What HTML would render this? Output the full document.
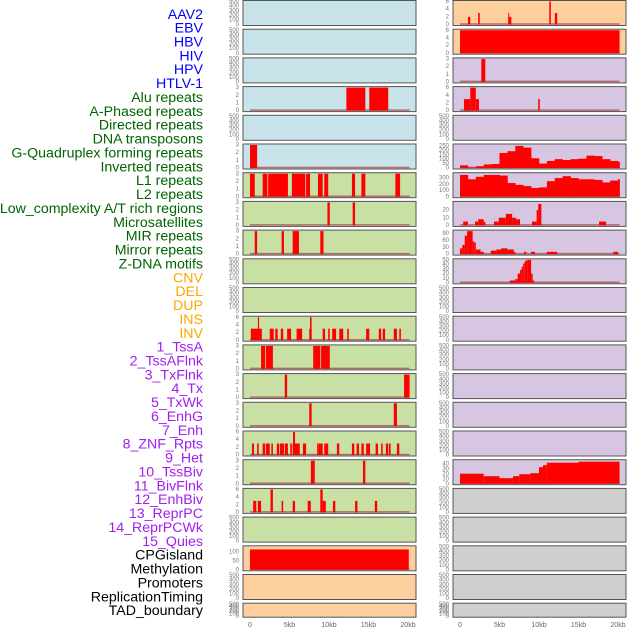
<!DOCTYPE html>
<html><head><meta charset="utf-8"><style>
body{margin:0;background:#fff;}
svg{display:block;font-family:"Liberation Sans",sans-serif;}
</style></head><body>
<svg id="chart" width="630" height="630"></svg>
<script>
const labels=["AAV2","EBV","HBV","HIV","HPV","HTLV-1","Alu repeats","A-Phased repeats","Directed repeats","DNA transposons","G-Quadruplex forming repeats","Inverted repeats","L1 repeats","L2 repeats","Low_complexity A/T rich regions","Microsatellites","MIR repeats","Mirror repeats","Z-DNA motifs","CNV","DEL","DUP","INS","INV","1_TssA","2_TssAFlnk","3_TxFlnk","4_Tx","5_TxWk","6_EnhG","7_Enh","8_ZNF_Rpts","9_Het","10_TssBiv","11_BivFlnk","12_EnhBiv","13_ReprPC","14_ReprPCWk","15_Quies","CPGisland","Methylation","Promoters","ReplicationTiming","TAD_boundary"];
const labelColors=[["#0000ff",6],["#006400",13],["#ffa500",5],["#a020f0",15],["#000000",5]];
const xTicks=[0,5,10,15,20];
const xTickLabels=["0","5kb","10kb","15kb","20kb"];
// segments [startKb,endKb,value]
const alu=[[12.2,14.6,3],[15.1,17.5,3]];
const gquad=[[0,0.9,3]];
const l1=[[0,0.6,3],[1.6,2.2,3],[2.3,4.8,3],[5.3,7.0,3],[7.1,7.6,3],[8.6,9.2,3],[9.4,9.9,3],[12.9,13.3,3],[14.1,14.6,3],[18.4,19.0,3]];
const lowc=[[9.8,10.1,3],[13.0,13.3,3]];
const mir=[[0.6,0.9,3],[4.0,4.3,3],[5.4,6.2,3],[8.9,9.3,3]];
const ins=[[0.1,1.5,3],[1.0,1.15,6],[2.5,3.0,3],[3.2,3.5,3],[3.9,4.2,3],[4.7,5.2,3],[5.9,6.6,3],[7.5,7.8,3],[7.6,7.8,6],[9.2,9.5,3],[9.9,10.1,3],[10.4,10.9,3],[11.3,11.8,3],[12.3,12.5,3],[14.7,15.1,3],[16.3,16.6,3],[16.8,17.1,3],[18.2,18.6,3],[18.9,19.1,3]];
const tssaflnk=[[1.4,1.9,3],[2.0,2.9,3],[8.0,8.9,3],[9.0,10.1,3]];
const tx=[[4.4,4.7,3],[19.5,20.2,3]];
const enhg=[[7.5,7.8,3],[18.2,18.6,3]];
const znf=[[0.25,0.5,3],[0.9,1.1,3],[1.6,1.9,3],[2.0,2.5,3],[2.7,2.9,3],[3.4,3.7,3],[3.8,4.3,3],[4.4,4.8,3],[5.1,5.3,3],[5.4,6.3,3],[5.45,5.7,6],[6.7,7.1,3],[8.5,8.7,3],[8.7,9.2,3],[9.4,9.9,3],[11.0,11.3,3],[12.9,13.2,3],[13.5,13.8,3],[14.1,14.4,3],[14.7,15.2,3],[15.9,16.2,3],[16.6,16.8,3],[17.2,17.5,3],[17.6,17.8,3],[18.6,18.9,3]];
const tssbiv=[[7.7,8.2,3],[14.3,14.6,3]];
const enhbiv=[[0.4,0.8,3],[1.0,1.4,3],[2.6,2.9,6],[4.0,4.2,3],[5.4,5.7,3],[7.3,7.7,3],[8.9,9.2,6],[9.2,9.6,3],[10.5,10.8,3],[13.3,13.6,3],[15.8,16.1,3]];
const cpg=[[0,20.1,115]];
const ebv=[[1.0,1.3,2],[2.3,2.5,3],[6.1,6.2,3],[6.2,6.5,2],[11.3,11.5,6],[12.0,12.3,3]];
const hiv=[[0,20.2,6]];
const htlv=[[2.7,3.2,3]];
const aphased=[[0.5,1.3,3],[1.3,2.0,6],[2.0,2.4,3],[9.9,10.1,3]];
const micro=[[0.4,1.0,5],[1.9,2.3,5],[2.3,3.0,8],[3.0,3.2,5],[4.3,4.9,5],[4.9,5.8,10],[5.8,6.6,15],[6.6,7.1,10],[7.1,7.6,8],[9.1,9.7,5],[9.7,9.9,20],[9.9,10.3,28],[17.6,18.5,5]];
const mirror=[[0,0.3,25],[0.3,0.6,40],[0.6,0.9,80],[0.9,1.6,100],[1.6,1.8,55],[1.8,2.0,50],[2.0,2.6,20],[2.6,3.0,10],[3.9,4.6,15],[4.6,5.2,20],[5.2,6.0,25],[6.0,6.8,20],[6.8,7.0,10],[8.1,8.4,10],[9.0,9.5,10],[11.0,12.3,10],[19.4,20.0,10]];
const zdna=[[6.3,7.0,5],[7.0,7.3,8],[7.3,7.6,20],[7.6,7.8,28],[7.8,8.0,35],[8.0,8.2,42],[8.2,8.5,48],[8.5,9.0,50],[9.0,9.2,20],[9.2,9.4,5]];
const tssbivR=[[0,3,20],[3,5,15],[5,6.7,11],[6.7,7.5,15],[7.5,8.9,19],[8.9,10,21],[10,10.5,33],[10.5,11,37],[11,15,42],[15,20.2,44]];
// 1kb-binned coverage
const inverted=[30,5,20,40,45,170,190,250,230,110,50,80,100,90,100,105,140,135,100,80,70];
const l2=[350,280,320,350,350,340,220,190,170,140,150,250,300,330,300,280,280,270,230,260,280];

const BL="#c8e3ea",GR="#c8e0a4",OR="#fecf9e",PU="#d6c6e2",GY="#cfcfcf";
const T500=[0,100,200,300,400,500],T3=[0,1,2,3],T6=[0,2,4,6];
const left=[
 {n:"aav2",bg:BL,t:T500,m:500},{n:"hbv",bg:BL,t:T500,m:500},{n:"hpv",bg:BL,t:T500,m:500},
 {n:"alu",bg:BL,t:T3,m:3,s:alu},{n:"directed",bg:BL,t:T500,m:500},{n:"gquad",bg:BL,t:T3,m:3,s:gquad},
 {n:"l1",bg:GR,t:T3,m:3,s:l1},{n:"lowcomplexity",bg:GR,t:T3,m:3,s:lowc},{n:"mir",bg:GR,t:T3,m:3,s:mir},
 {n:"zdna-left",bg:GR,t:T500,m:500},{n:"del",bg:GR,t:T500,m:500},{n:"ins",bg:GR,t:T6,m:6,s:ins},
 {n:"tssaflnk",bg:GR,t:T3,m:3,s:tssaflnk},{n:"tx",bg:GR,t:T3,m:3,s:tx},{n:"enhg",bg:GR,t:T3,m:3,s:enhg},
 {n:"znf",bg:GR,t:T6,m:6,s:znf},{n:"tssbiv",bg:GR,t:T3,m:3,s:tssbiv},{n:"enhbiv",bg:GR,t:T6,m:6,s:enhbiv},
 {n:"reprpcwk",bg:GR,t:T500,m:500},{n:"cpgisland",bg:OR,t:[0,50,100],m:130,s:cpg},
 {n:"promoters",bg:OR,t:T500,m:500},{n:"tad",bg:OR,t:T500,m:500}];
const right=[
 {n:"ebv",bg:OR,t:T6,m:6,s:ebv},{n:"hiv",bg:OR,t:T6,m:6,s:hiv},{n:"htlv1",bg:PU,t:T3,m:3,s:htlv},
 {n:"aphased",bg:PU,t:T6,m:6,s:aphased},{n:"dnatransposons",bg:PU,t:T500,m:500},
 {n:"inverted",bg:PU,t:[0,50,100,150,200,250],m:260,b:inverted},
 {n:"l2",bg:PU,t:[0,100,200,300],m:370,b:l2},{n:"microsatellites",bg:PU,t:[0,10,20],m:30,s:micro},
 {n:"mirror",bg:PU,t:[0,30,60,90],m:100,s:mirror},{n:"zdna",bg:PU,t:[0,10,20,30,40,50],m:50,s:zdna},
 {n:"dup",bg:PU,t:T500,m:500},{n:"inv",bg:PU,t:T500,m:500},{n:"txflnk",bg:PU,t:T500,m:500},
 {n:"txwk",bg:PU,t:T500,m:500},{n:"enh",bg:PU,t:T500,m:500},{n:"het",bg:PU,t:T500,m:500},
 {n:"tssbiv-right",bg:PU,t:[0,10,20,30,40],m:46,s:tssbivR},
 {n:"bivflnk",bg:GY,t:T500,m:500},{n:"reprpc",bg:GY,t:T500,m:500},{n:"quies",bg:GY,t:T500,m:500},
 {n:"methylation",bg:GY,t:T500,m:500},{n:"replicationtiming",bg:GY,t:T500,m:500}];

const NS="http://www.w3.org/2000/svg";
const svg=document.getElementById("chart");
function mk(tag,attrs,parent){const e=document.createElementNS(NS,tag);for(const k in attrs)e.setAttribute(k,attrs[k]);(parent||svg).appendChild(e);return e;}

// labels
let li=0;
labelColors.forEach(([c,n])=>{for(let k=0;k<n;k++){const t=mk("text",{x:203,y:15+li*13.87,"text-anchor":"end","dominant-baseline":"middle","font-size":"14.2",fill:c});


t.textContent=labels[li];li++;}});

function drawPanel(p,col,i){
  const x0=col?453:243,w=173;
  const top=0.5+i*28.7,h=(i==21)?14:25;
  const zero=col?460:250;
  const xs=v=>zero+v*7.9;
  const ys=v=>top+h-1-(v/p.m)*(h-2);
  const g=mk("g",{});
  
  
  mk("rect",{x:x0,y:top,width:w,height:h,fill:p.bg,stroke:"#555","stroke-width":1},g);
  p.t.forEach(v=>{const t=mk("text",{x:x0-4,y:ys(v),"text-anchor":"end","dominant-baseline":"middle","font-size":"6",fill:"#777"},g);
    t.textContent=v;});
  if(p.s||p.b){
    const bl=mk("line",{x1:xs(0),x2:xs(20.2),y1:top+h-1.5,y2:top+h-1.5,stroke:"#b05050","stroke-width":1.5,opacity:0.8},g);
    
  }
  if(p.s)p.s.forEach(s=>{const r=mk("rect",{x:xs(s[0]),y:ys(s[2]),width:Math.max(1,xs(s[1])-xs(s[0])),height:ys(0)-ys(s[2]),fill:"#ff0000"},g);
    });
  if(p.b)p.b.forEach((v,k)=>{const e=Math.min(k+1,20.2);const r=mk("rect",{x:xs(k),y:ys(v),width:xs(e)-xs(k)+0.3,height:ys(0)-ys(v),fill:"#ff0000"},g);
    });
}
left.forEach((p,i)=>drawPanel(p,0,i));
right.forEach((p,i)=>drawPanel(p,1,i));
[0,1].forEach(col=>{const zero=col?460:250;xTicks.forEach((v,k)=>{const t=mk("text",{x:zero+v*7.9,y:627,"text-anchor":"middle","font-size":"7",fill:"#666"});
  t.textContent=xTickLabels[k];});});
</script>
</body></html>
